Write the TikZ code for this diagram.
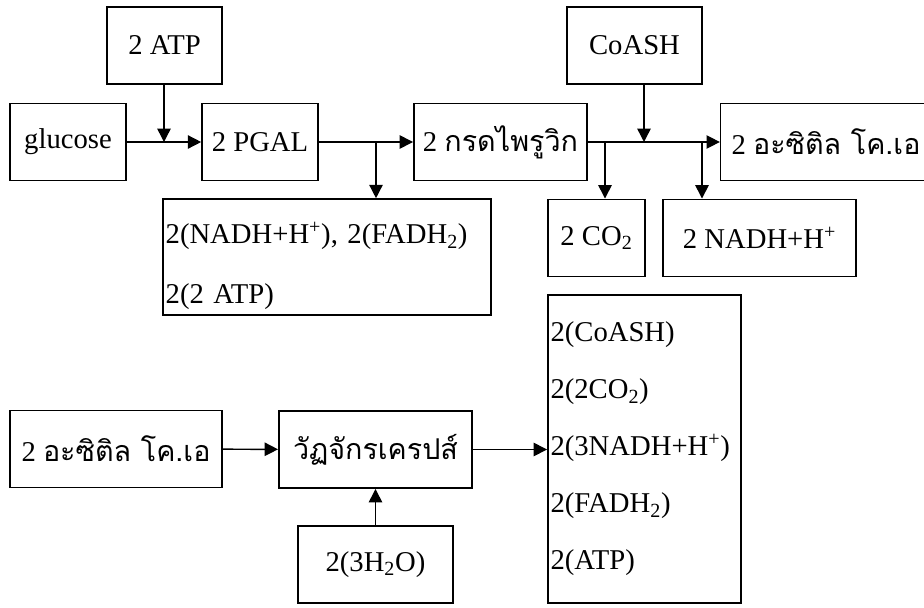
\documentclass[tikz,border=0pt]{standalone}
\usepackage{fontspec}
\setmainfont{Liberation Serif}
\newfontfamily\thaifont[Script=Thai]{Loma}
\usetikzlibrary{arrows.meta}

\tikzset{
    box/.style={draw, line width=1.2pt, rectangle, minimum height=58pt,
        inner sep=1pt, font=\fontsize{21.5}{25.8}\selectfont},
    listbox/.style={box, align=left, anchor=center},
    flow/.style={->, line width=1.1pt}
}

\begin{document}
\begin{tikzpicture}[
    x=0.75pt, y=-0.75pt,
    > = {Triangle[length=10pt, width=10pt]}
]
    \useasboundingbox (0,0) rectangle (924,607);

    % Top row: glycolysis and link reaction
    \node[box, minimum width=86pt] (atp) at (164.5,45.5) {2 ATP};
    \node[box, minimum width=87pt] (glucose) at (68,142) {glucose};
    \node[box, minimum width=87pt] (pgal) at (260,142) {2 PGAL};
    \node[box, minimum width=130pt] (pyruvic) at (500.5,142) {2 {\thaifont กรดไพรูวิก}};
    \node[box, minimum width=101pt] (coash) at (634.5,45.5) {CoASH};
    \node[box, minimum width=158pt] (acetyl) at (826,142) {2 {\thaifont อะซิติล โค.เอ}};

    % Products of the top row
    \node[listbox, text width=242pt, minimum width=246pt, minimum height=87pt] (gain) at (327,257)
        {\rule{0pt}{30pt}2(NADH+H\textsuperscript{+}), 2(FADH\textsubscript{2})\\[19.2pt]2(2 ATP)};
    \node[box, minimum width=73pt] (co2) at (596.5,238) {2 CO\textsubscript{2}};
    \node[box, minimum width=145pt] (nadh) at (759.5,238) {2 NADH+H\textsuperscript{+}};

    % Bottom row: Krebs cycle
    \node[box, minimum width=159pt] (acetylb) at (116,449) {2 {\thaifont อะซิติล โค.เอ}};
    \node[box, minimum width=145pt] (krebs) at (375.5,449.5) {\thaifont วัฏจักรเครปส์};
    \node[box, minimum width=116pt] (water) at (375.5,564.5) {2(3H\textsubscript{2}O)};
    \node[listbox, text width=141pt, minimum width=145pt, minimum height=231pt] (cycle) at (644.5,449)
        {2(CoASH)\\[16.95pt]2(2CO\textsubscript{2})\\[16.95pt]2(3NADH+H\textsuperscript{+})\\[16.95pt]2(FADH\textsubscript{2})\\[16.95pt]2(ATP)};

    % Branch points on the main lines
    \coordinate (atpin) at (164,142);
    \coordinate (gainout) at (376,142);
    \coordinate (co2out) at (605,142);
    \coordinate (coashin) at (644,142);
    \coordinate (nadhout) at (702,142);

    % Connectors
    \draw[flow] (glucose) -- (pgal);
    \draw[flow] (atp.south -| atpin) -- (atpin);
    \draw[flow] (pgal) -- (pyruvic);
    \draw[flow] (gainout) -- (gainout |- gain.north);
    \draw[flow] (pyruvic) -- (acetyl);
    \draw[flow] (coash.south -| coashin) -- (coashin);
    \draw[flow] (co2out) -- (co2out |- co2.north);
    \draw[flow] (nadhout) -- (nadhout |- nadh.north);
    \draw[flow] (acetylb) -- (krebs);
    \draw[flow] (water) -- (krebs);
    \draw[flow] (krebs) -- (krebs -| cycle.west);
\end{tikzpicture}
\end{document}
